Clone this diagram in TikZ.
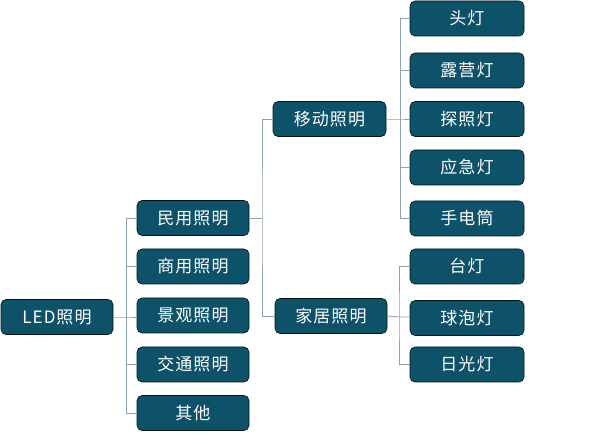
\documentclass[tikz,border=0pt]{standalone}
\usepackage{fontspec}
\setmainfont[LetterSpace=6]{Noto Sans CJK SC}
\begin{document}
\begin{tikzpicture}[x=1pt,y=-1pt,
  box/.style={draw=black!60!teal!40!black, line width=0.6pt, fill=boxc, rounded corners=5pt, text=white,
    minimum width=112pt, minimum height=35pt, inner sep=0pt, font=\fontsize{17}{19}\selectfont},
  conn/.style={draw=connc, line width=0.9pt}]
\definecolor{boxc}{HTML}{0E5269}
\definecolor{connc}{HTML}{8CA2AC}
\useasboundingbox (0,0) rectangle (600,435);
\node[box] (led) at (57,317) {LED照明};
\node[box] (my) at (193,218) {民用照明};
\node[box] (sy) at (193,266.5) {商用照明};
\node[box] (jg) at (193,315.5) {景观照明};
\node[box] (jt) at (193,364.5) {交通照明};
\node[box] (qt) at (193,413) {其他};
\node[box, minimum width=113pt] (yd) at (329.5,119) {移动照明};
\node[box] (jj) at (331,316) {家居照明};
\node[box, minimum width=114pt] (tou) at (467,18.5) {头灯};
\node[box, minimum width=114pt] (ly) at (467,70.5) {露营灯};
\node[box, minimum width=114pt] (tz) at (467,119) {探照灯};
\node[box, minimum width=114pt] (yj) at (467,167.5) {应急灯};
\node[box, minimum width=114pt] (sd) at (467,218.5) {手电筒};
\node[box, minimum width=114pt] (td) at (467,266.5) {台灯};
\node[box, minimum width=114pt] (qp) at (467,318) {球泡灯};
\node[box, minimum width=114pt] (rg) at (467,364.5) {日光灯};
\coordinate (j1) at (126,317);
\coordinate (j2) at (262,218);
\coordinate (j3) at (400,119);
\coordinate (j4) at (399,317);
\draw[conn] (led.east) -- (j1) -- (j1 -| jg.west);
\draw[conn] (my.west) -| (j1) |- (qt.west);
\draw[conn] (j1) |- (sy.west);
\draw[conn] (j1) |- (jt.west);
\draw[conn] (my.east) -- (j2);
\draw[conn] (yd.west) -| (j2) |- (jj.west);
\draw[conn] (yd.east) -- (j3) -- (j3 -| tz.west);
\draw[conn] (tou.west) -| (j3) |- (sd.west);
\draw[conn] (j3) |- (ly.west);
\draw[conn] (j3) |- (yj.west);
\draw[conn] (jj.east) -- (j4) -- (j4 -| qp.west);
\draw[conn] (td.west) -| (j4) |- (rg.west);
\end{tikzpicture}
\end{document}
